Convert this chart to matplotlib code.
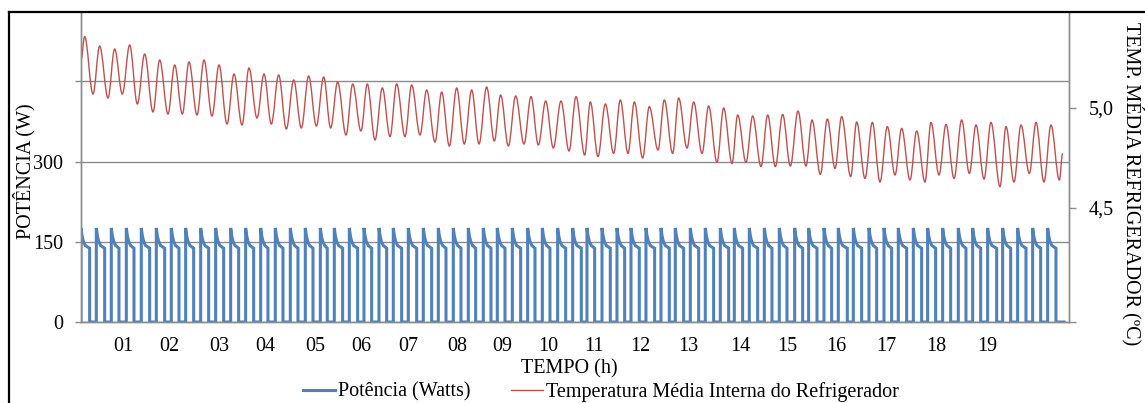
import matplotlib
matplotlib.use('Agg')
import matplotlib.pyplot as plt
from matplotlib.lines import Line2D
from matplotlib.path import Path
from matplotlib.patches import PathPatch

plt.rcParams['font.family'] = ['Liberation Serif', 'DejaVu Serif']

# temperatura: picos e vales de cada ciclo (h, °C)
peak_h = [0.076, 0.389, 0.701, 1.014, 1.326, 1.639, 1.951, 2.25, 2.563, 2.875, 3.188, 3.5, 3.813, 4.118, 4.431, 4.743, 5.056,
          5.347, 5.660, 5.965, 6.278, 6.576, 6.889, 7.201, 7.514, 7.826, 8.139, 8.451, 8.743, 9.056, 9.375, 9.681, 10.0,
          10.313, 10.611, 10.924, 11.236, 11.528, 11.840, 12.153, 12.451, 12.764, 13.076, 13.389, 13.681, 13.993, 14.306, 14.618, 14.938, 15.229,
          15.549, 15.847, 16.160, 16.486, 16.799, 17.097, 17.410, 17.708, 18.021, 18.347, 18.646, 18.958, 19.271, 19.583, 19.896, 20.208]
peak_c = [5.357, 5.31, 5.295, 5.315, 5.27, 5.24, 5.215, 5.23, 5.24, 5.215, 5.17, 5.20, 5.17, 5.165, 5.14, 5.16, 5.155,
          5.13, 5.12, 5.12, 5.10, 5.12, 5.115, 5.09, 5.08, 5.10, 5.09, 5.105, 5.065, 5.06, 5.057, 5.035, 5.035,
          5.057, 5.03, 5.02, 5.04, 5.03, 5.007, 5.04, 5.05, 5.03, 5.01, 5.00, 4.965, 4.96, 4.965, 4.968, 4.985, 4.94,
          4.945, 4.957, 4.93, 4.928, 4.907, 4.898, 4.885, 4.928, 4.918, 4.94, 4.915, 4.928, 4.907, 4.915, 4.928, 4.915]
trough_h = [0.25, 0.563, 0.861, 1.174, 1.5, 1.813, 2.111, 2.417, 2.729, 3.042, 3.354, 3.667, 3.965, 4.278, 4.590, 4.903,
            5.201, 5.521, 5.833, 6.125, 6.438, 6.75, 7.063, 7.375, 7.674, 7.986, 8.292, 8.611, 8.903, 9.229, 9.528, 9.840, 10.167,
            10.493, 10.771, 11.097, 11.396, 11.701, 12.021, 12.326, 12.625, 12.938, 13.25, 13.563, 13.854, 14.167, 14.465, 14.778, 15.104, 15.403,
            15.708, 16.035, 16.333, 16.646, 16.958, 17.271, 17.583, 17.875, 18.188, 18.507, 18.813, 19.146, 19.438, 19.757, 20.063, 20.382]
trough_c = [5.07, 5.05, 5.07, 5.02, 4.98, 4.97, 4.97, 4.965, 4.96, 4.92, 4.915, 4.95, 4.92, 4.895, 4.90, 4.91,
            4.90, 4.865, 4.885, 4.84, 4.857, 4.857, 4.865, 4.83, 4.81, 4.82, 4.82, 4.835, 4.81, 4.82, 4.815, 4.80, 4.785,
            4.765, 4.757, 4.773, 4.773, 4.75, 4.79, 4.773, 4.80, 4.773, 4.728, 4.723, 4.728, 4.707, 4.707, 4.71, 4.71, 4.668,
            4.698, 4.657, 4.648, 4.63, 4.665, 4.64, 4.63, 4.665, 4.648, 4.673, 4.645, 4.607, 4.63, 4.673, 4.63, 4.64]
temp_start = (0.0, 5.24)
temp_end = (20.451, 4.773)

# potência: liga / desliga do compressor (h)
on_h = [0.0, 0.319, 0.631, 0.944, 1.256, 1.569, 1.881, 2.18, 2.493, 2.805, 3.118, 3.43, 3.743, 4.048, 4.361, 4.673, 4.986,
        5.277, 5.59, 5.895, 6.208, 6.506, 6.819, 7.131, 7.444, 7.756, 8.069, 8.381, 8.673, 8.986, 9.305, 9.611, 9.93,
        10.243, 10.541, 10.854, 11.166, 11.458, 11.77, 12.083, 12.381, 12.694, 13.006, 13.319, 13.611, 13.923, 14.236, 14.548, 14.868, 15.159,
        15.479, 15.777, 16.09, 16.416, 16.729, 17.027, 17.34, 17.638, 17.951, 18.277, 18.576, 18.888, 19.201, 19.513, 19.826, 20.138]
off_h = [0.18, 0.493, 0.791, 1.104, 1.43, 1.743, 2.041, 2.347, 2.659, 2.972, 3.284, 3.597, 3.895, 4.208, 4.52, 4.833,
         5.131, 5.451, 5.763, 6.055, 6.368, 6.68, 6.993, 7.305, 7.604, 7.916, 8.222, 8.541, 8.833, 9.159, 9.458, 9.77, 10.097,
         10.423, 10.701, 11.027, 11.326, 11.631, 11.951, 12.256, 12.555, 12.868, 13.18, 13.493, 13.784, 14.097, 14.395, 14.708, 15.034, 15.333,
         15.638, 15.965, 16.263, 16.576, 16.888, 17.201, 17.513, 17.805, 18.118, 18.437, 18.743, 19.076, 19.368, 19.687, 19.993, 20.312]
spike_w = 176
profile_dt = [0.021, 0.048, 0.09]   # depois da partida
profile_w = [162, 151, 143]
plateau_end_w = 138
power_end_h = 20.48

hour_ticks = [0.881, 1.833, 2.875, 3.833, 4.875, 5.848, 6.813, 7.833, 8.771, 9.729,
              10.688, 11.646, 12.646, 13.729, 14.708, 15.729, 16.785, 17.827, 18.881]
hour_labels = ['01', '02', '03', '04', '05', '06', '07', '08', '09', '10',
               '11', '12', '13', '14', '15', '16', '17', '18', '19']

# montar as séries
temp_t = [temp_start[0]]
temp_v = [temp_start[1]]
for ph, pc, th, tc in zip(peak_h, peak_c, trough_h, trough_c):
    temp_t += [ph, th]
    temp_v += [pc, tc]
temp_t.append(temp_end[0])
temp_v.append(temp_end[1])

pow_t = []
pow_v = []
for on, off in zip(on_h, off_h):
    pow_t += [on, on] + [on + d for d in profile_dt] + [off, off]
    pow_v += [0, spike_w] + profile_w + [plateau_end_w, 0]
pow_t.append(power_end_h)
pow_v.append(0)

W, H = 1145, 403
fig = plt.figure(figsize=(W / 100, H / 100), dpi=100)
ax = fig.add_axes([81 / W, 1 - 322 / H, 988 / W, 309 / H])
ax2 = ax.twinx()

grid_c = '#8c8c8c'
FS = 14.5

ax.plot(pow_t, pow_v, color='#4F81BD', lw=2.2, solid_joinstyle='miter')

# curva suave (bezier) ligando picos e vales da temperatura
verts = [(temp_t[0], temp_v[0])]
codes = [Path.MOVETO]
for i in range(1, len(temp_t)):
    t0, v0 = temp_t[i - 1], temp_v[i - 1]
    t1, v1 = temp_t[i], temp_v[i]
    k = (t1 - t0) * 0.36
    verts += [(t0 + k, v0), (t1 - k, v1), (t1, v1)]
    codes += [Path.CURVE4] * 3
ax2.add_patch(PathPatch(Path(verts, codes), fill=False, edgecolor='#C0504D', lw=1.0))

ax.set_xlim(0, 988 / 48)
ax.set_ylim(0, 578)
ax2.set_ylim(3.93, 5.475)

ax.set_yticks([0, 150, 300, 450])
ax.set_yticklabels(['0', '150', '300', ''])
ax.yaxis.grid(True, color=grid_c, lw=1.0)
ax.set_axisbelow(True)
ax.set_xticks(hour_ticks)
ax.set_xticklabels(hour_labels)
ax.tick_params(axis='x', length=0, pad=11, labelsize=FS)
ax.tick_params(axis='y', length=4, width=1.0, color=grid_c, pad=9, labelsize=FS)

ax2.set_yticks([3.93, 4.5, 5.0])
ax2.set_yticklabels(['', '4,5', '5,0'])
ax2.tick_params(axis='y', length=5, width=1.0, color=grid_c, pad=9, labelsize=FS)

for a in (ax, ax2):
    a.spines['top'].set_visible(False)
    for s in ('left', 'right', 'bottom'):
        a.spines[s].set_color(grid_c)
        a.spines[s].set_linewidth(1.0)

fig.text(24 / W, 1 - 171 / H, 'POTÊNCIA (W)', rotation=90, ha='center', va='center', fontsize=FS)
fig.text(1133 / W, 1 - 184 / H, 'TEMP. MÉDIA REFRIGERADOR (ºC)', rotation=270, ha='center', va='center', fontsize=FS)
fig.text(569 / W, 1 - 369 / H, 'TEMPO (h)', ha='center', va='center', fontsize=FS)

handles = [Line2D([], [], color='#4F81BD', lw=2.2), Line2D([], [], color='#C0504D', lw=1.0)]
fig.legend(handles, ['Potência (Watts)', 'Temperatura Média Interna do Refrigerador'],
           loc='center', bbox_to_anchor=(601 / W, 1 - 392 / H), ncol=2, frameon=False,
           fontsize=FS, handlelength=1.6, handletextpad=0.15, columnspacing=2.0,
           borderpad=0, borderaxespad=0)

# moldura da área do gráfico
fig.add_artist(Line2D([9 / W, 9 / W], [0, 1 - 12 / H], color='black', lw=1.6, transform=fig.transFigure))
fig.add_artist(Line2D([9 / W, 1], [1 - 12 / H, 1 - 12 / H], color='black', lw=1.6, transform=fig.transFigure))

fig.savefig('out.png', dpi=100)
